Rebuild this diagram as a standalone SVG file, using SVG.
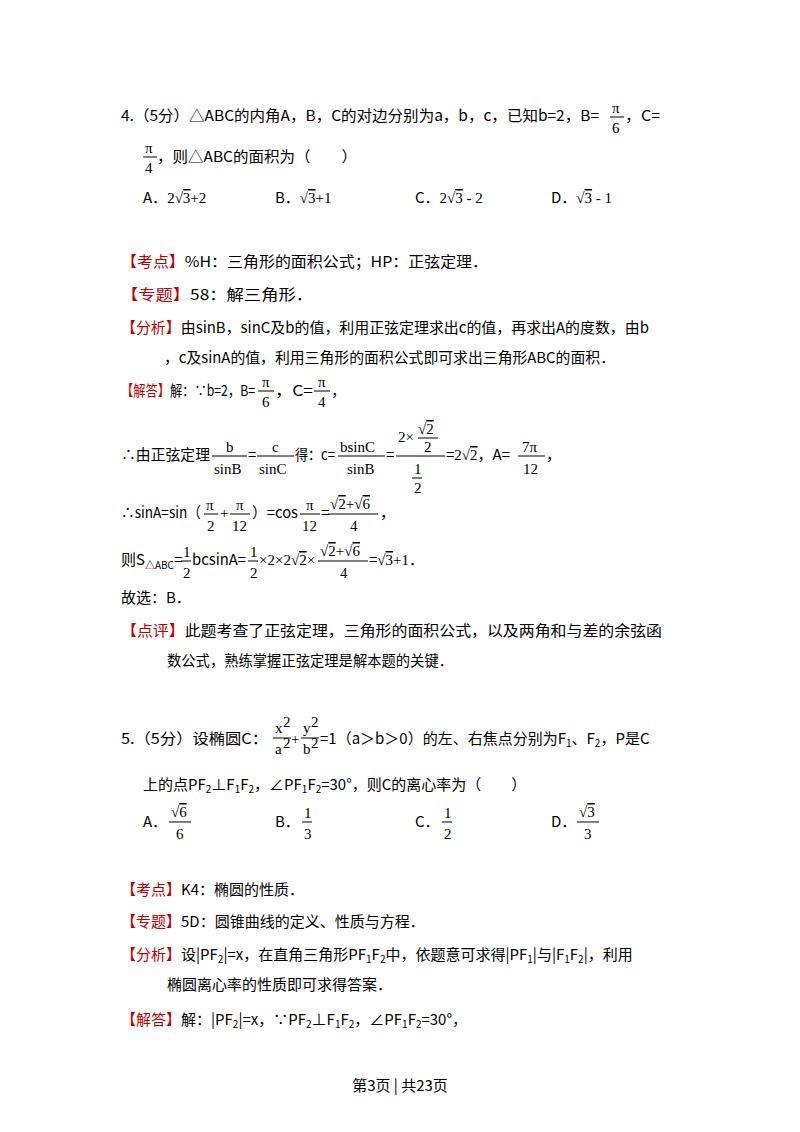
<svg xmlns="http://www.w3.org/2000/svg" width="800" height="1132" viewBox="0 0 800 1132">
<style>
text{font-family:"Noto Sans CJK SC","Liberation Sans",sans-serif;font-size:15px;fill:#000}
.s{font-family:"Liberation Serif","Noto Sans CJK SC",serif;font-size:15px}
.r{fill:#c00000}
.sub{font-size:10px}
.o{text-decoration:overline}
line{stroke:#000;stroke-width:1}
</style>
<rect width="800" height="1132" fill="#fff"/>
<!-- Q4 -->
<text x="121" y="121" textLength="478" lengthAdjust="spacingAndGlyphs">4.（5分）△ABC的内角A，B，C的对边分别为a，b，c，已知b=2，B=</text>
<text class="s" x="612" y="113">π</text><line x1="610" y1="117" x2="624" y2="117"/><text class="s" x="612" y="133">6</text>
<text x="625" y="121" textLength="35" lengthAdjust="spacingAndGlyphs">，C=</text>
<text class="s" x="145" y="153">π</text><line x1="143" y1="157" x2="157" y2="157"/><text class="s" x="145" y="173">4</text>
<text x="157" y="162" textLength="200" lengthAdjust="spacingAndGlyphs">，则△ABC的面积为（　　）</text>
<text x="143" y="203">A．<tspan class="s">2√<tspan class="o">3</tspan>+2</tspan></text>
<text x="275" y="203">B．<tspan class="s">√<tspan class="o">3</tspan>+1</tspan></text>
<text x="415" y="203">C．<tspan class="s">2√<tspan class="o">3</tspan> - 2</tspan></text>
<text x="551" y="203">D．<tspan class="s">√<tspan class="o">3</tspan> - 1</tspan></text>
<text x="121" y="267" textLength="367" lengthAdjust="spacingAndGlyphs"><tspan class="r">【考点】</tspan>%H：三角形的面积公式；HP：正弦定理．</text>
<text x="121" y="300" textLength="192" lengthAdjust="spacingAndGlyphs"><tspan class="r">【专题】</tspan>58：解三角形．</text>
<text x="121" y="333" textLength="528" lengthAdjust="spacingAndGlyphs"><tspan class="r">【分析】</tspan>由sinB，sinC及b的值，利用正弦定理求出c的值，再求出A的度数，由b</text>
<text x="164" y="363" textLength="451" lengthAdjust="spacingAndGlyphs">，c及sinA的值，利用三角形的面积公式即可求出三角形ABC的面积．</text>
<text x="121" y="396" textLength="134" lengthAdjust="spacingAndGlyphs"><tspan class="r">【解答】</tspan>解：∵b=2，B=</text>
<text class="s" x="262" y="387">π</text><line x1="258" y1="391" x2="274" y2="391"/><text class="s" x="262" y="407">6</text>
<text x="275" y="396" textLength="38" lengthAdjust="spacingAndGlyphs">，C=</text>
<text class="s" x="318" y="387">π</text><line x1="314" y1="391" x2="330" y2="391"/><text class="s" x="318" y="407">4</text>
<text x="331" y="396">，</text>
<!-- line 2 -->
<text x="121" y="460" textLength="89" lengthAdjust="spacingAndGlyphs">∴由正弦定理</text>
<text class="s" x="226" y="452">b</text><line x1="212" y1="456" x2="247" y2="456"/><text class="s" x="214" y="474">sinB</text>
<text x="248" y="460">=</text>
<text class="s" x="272" y="452">c</text><line x1="257" y1="456" x2="294" y2="456"/><text class="s" x="259" y="474">sinC</text>
<text x="295" y="460" textLength="40" lengthAdjust="spacingAndGlyphs">得：c=</text>
<text class="s" x="340" y="452">bsinC</text><line x1="338" y1="456" x2="385" y2="456"/><text class="s" x="347" y="474">sinB</text>
<text x="386" y="460">=</text>
<text class="s" x="398" y="442">2×</text><text class="s" x="418" y="434">√<tspan class="o">2</tspan></text><line x1="418" y1="438" x2="438" y2="438"/><text class="s" x="424" y="452">2</text>
<line x1="396" y1="456" x2="445" y2="456"/>
<text class="s" x="414" y="474">1</text><line x1="412" y1="478" x2="422" y2="478"/><text class="s" x="414" y="493">2</text>
<text x="446" y="460">=<tspan class="s">2√<tspan class="o">2</tspan></tspan>，A=</text>
<text class="s" x="522" y="452">7π</text><line x1="518" y1="456" x2="545" y2="456"/><text class="s" x="523" y="474">12</text>
<text x="546" y="460">，</text>
<!-- line 3 -->
<text x="121" y="518" textLength="80" lengthAdjust="spacingAndGlyphs">∴sinA=sin（</text>
<text class="s" x="206" y="510">π</text><line x1="204" y1="514" x2="218" y2="514"/><text class="s" x="207" y="531">2</text>
<text x="220" y="518" class="s">+</text>
<text class="s" x="236" y="510">π</text><line x1="230" y1="514" x2="250" y2="514"/><text class="s" x="232" y="531">12</text>
<text x="252" y="518" textLength="46" lengthAdjust="spacingAndGlyphs">）=cos</text>
<text class="s" x="306" y="510">π</text><line x1="300" y1="514" x2="320" y2="514"/><text class="s" x="302" y="531">12</text>
<text x="321" y="518">=</text>
<text class="s" x="330" y="509">√<tspan class="o">2</tspan>+√<tspan class="o">6</tspan></text>
<line x1="328" y1="514" x2="378" y2="514"/><text class="s" x="350" y="531">4</text>
<text x="380" y="518">，</text>
<!-- line 4 -->
<text x="121" y="565">则S<tspan class="sub" dy="4">△ABC</tspan><tspan dy="-4">=</tspan></text>
<text class="s" x="183" y="557">1</text><line x1="181" y1="561" x2="191" y2="561"/><text class="s" x="183" y="578">2</text>
<text x="192" y="565" textLength="54" lengthAdjust="spacingAndGlyphs">bcsinA=</text>
<text class="s" x="250" y="557">1</text><line x1="248" y1="561" x2="258" y2="561"/><text class="s" x="250" y="578">2</text>
<text x="259" y="565" class="s">×2×2√<tspan class="o">2</tspan>×</text>
<text class="s" x="320" y="556">√<tspan class="o">2</tspan>+√<tspan class="o">6</tspan></text>
<line x1="318" y1="561" x2="368" y2="561"/><text class="s" x="340" y="578">4</text>
<text x="369" y="565">=<tspan class="s">√<tspan class="o">3</tspan>+1</tspan>．</text>
<text x="121" y="603">故选：B．</text>
<text x="121" y="636" textLength="541" lengthAdjust="spacingAndGlyphs"><tspan class="r">【点评】</tspan>此题考查了正弦定理，三角形的面积公式，以及两角和与差的余弦函</text>
<text x="167" y="666" textLength="286" lengthAdjust="spacingAndGlyphs">数公式，熟练掌握正弦定理是解本题的关键．</text>
<!-- Q5 -->
<text x="121" y="744" textLength="147" lengthAdjust="spacingAndGlyphs">5.（5分）设椭圆C：</text>
<text class="s" x="275" y="733">x</text><text class="s" x="283" y="727" font-size="10">2</text><line x1="273" y1="738" x2="291" y2="738"/><text class="s" x="275" y="754">a</text><text class="s" x="283" y="748" font-size="10">2</text>
<text x="291" y="744" class="s">+</text>
<text class="s" x="303" y="733">y</text><text class="s" x="311" y="727" font-size="10">2</text><line x1="301" y1="738" x2="319" y2="738"/><text class="s" x="303" y="754">b</text><text class="s" x="311" y="748" font-size="10">2</text>
<text x="320" y="744" font-size="15.8">=1（a＞b＞0）的左、右焦点分别为F<tspan class="sub" dy="3">1</tspan><tspan dy="-3">、F</tspan><tspan class="sub" dy="3">2</tspan><tspan dy="-3">，P是C</tspan></text>
<text x="143" y="790" font-size="15.8">上的点PF<tspan class="sub" dy="3">2</tspan><tspan dy="-3">⊥F</tspan><tspan class="sub" dy="3">1</tspan><tspan dy="-3">F</tspan><tspan class="sub" dy="3">2</tspan><tspan dy="-3">，∠PF</tspan><tspan class="sub" dy="3">1</tspan><tspan dy="-3">F</tspan><tspan class="sub" dy="3">2</tspan><tspan dy="-3">=30°，则C的离心率为（　　）</tspan></text>
<text x="143" y="827">A．</text><text class="s" x="171" y="817">√<tspan class="o">6</tspan></text><line x1="169" y1="822" x2="191" y2="822"/><text class="s" x="176" y="839">6</text>
<text x="275" y="827">B．</text><text class="s" x="304" y="818">1</text><line x1="302" y1="822" x2="312" y2="822"/><text class="s" x="304" y="839">3</text>
<text x="415" y="827">C．</text><text class="s" x="444" y="818">1</text><line x1="442" y1="822" x2="452" y2="822"/><text class="s" x="444" y="839">2</text>
<text x="551" y="827">D．</text><text class="s" x="579" y="817">√<tspan class="o">3</tspan></text><line x1="577" y1="822" x2="599" y2="822"/><text class="s" x="584" y="839">3</text>
<text x="121" y="895"><tspan class="r">【考点】</tspan>K4：椭圆的性质．</text>
<text x="121" y="927"><tspan class="r">【专题】</tspan>5D：圆锥曲线的定义、性质与方程．</text>
<text x="121" y="960"><tspan class="r">【分析】</tspan>设|PF<tspan class="sub" dy="3">2</tspan><tspan dy="-3">|=x，在直角三角形PF</tspan><tspan class="sub" dy="3">1</tspan><tspan dy="-3">F</tspan><tspan class="sub" dy="3">2</tspan><tspan dy="-3">中，依题意可求得|PF</tspan><tspan class="sub" dy="3">1</tspan><tspan dy="-3">|与|F</tspan><tspan class="sub" dy="3">1</tspan><tspan dy="-3">F</tspan><tspan class="sub" dy="3">2</tspan><tspan dy="-3">|，利用</tspan></text>
<text x="167" y="990">椭圆离心率的性质即可求得答案．</text>
<text x="121" y="1025"><tspan class="r">【解答】</tspan>解：|PF<tspan class="sub" dy="3">2</tspan><tspan dy="-3">|=x，∵PF</tspan><tspan class="sub" dy="3">2</tspan><tspan dy="-3">⊥F</tspan><tspan class="sub" dy="3">1</tspan><tspan dy="-3">F</tspan><tspan class="sub" dy="3">2</tspan><tspan dy="-3">，∠PF</tspan><tspan class="sub" dy="3">1</tspan><tspan dy="-3">F</tspan><tspan class="sub" dy="3">2</tspan><tspan dy="-3">=30°，</tspan></text>
<text x="400" y="1091" text-anchor="middle" font-size="12">第3页 | 共23页</text>
</svg>
